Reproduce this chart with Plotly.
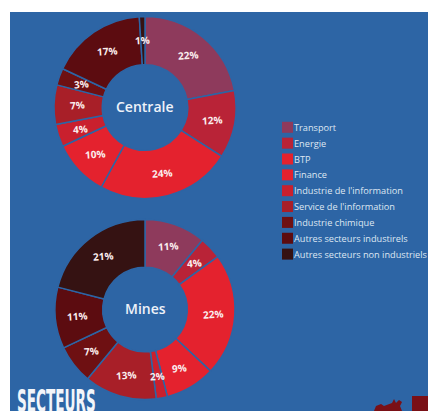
import math
import plotly.graph_objects as go

W, H = 428, 411
secteurs = ["Transport", "Energie", "BTP", "Finance", "Industrie de l'information",
            "Service de l'information", "Industrie chimique",
            "Autres secteurs industirels", "Autres secteurs non industriels"]
centrale = [22, 12, 24, 10, 4, 7, 3, 17, 1]
mines = [11, 4, 22, 9, 2, 13, 7, 11, 21]
couleurs = ["#8e3a5c", "#b92337", "#e4222e", "#e4222e", "#c9202e",
            "#a81f28", "#6e1012", "#5c0c10", "#351212"]
BLUE = "#2d65a5"
FONT = "Open Sans"

def X(px): return px / W
def Y(px): return 1 - px / H

fig = go.Figure()
annotations = []
shapes = [dict(type="rect", xref="paper", yref="paper", x0=X(10), x1=1, y0=0, y1=Y(12),
               fillcolor=BLUE, line_width=0, layer="below")]

def label(text, px, py, **kw):
    opts = dict(text=text, x=X(px), y=Y(py), xref="paper", yref="paper", showarrow=False,
                xanchor="center", yanchor="middle")
    opts.update(kw)
    annotations.append(opts)

def donut(name, values, cx, cy, r):
    fig.add_trace(go.Pie(
        labels=secteurs, values=values, name=name, sort=False, direction="clockwise",
        rotation=0, hole=0.47, textinfo="none", hoverinfo="label+percent", showlegend=False,
        marker=dict(colors=couleurs, line=dict(color=BLUE, width=1.5)),
        domain=dict(x=[X(cx - r), X(cx + r)], y=[Y(cy + r), Y(cy - r)])))
    label(name, cx, cy - 1, font=dict(family=FONT, size=14, color="#eef2f9", weight=600))
    total = sum(values)
    start = 0
    for v in values:
        a = math.radians((start + v / 2) / total * 360)
        start += v
        label(f"{v}%", cx + 68 * math.sin(a), cy - 68 * math.cos(a), textangle=-4,
              font=dict(family=FONT, size=10, color="#fbeeee", weight="bold"))

donut("Centrale", centrale, 145, 107.5, 91)
donut("Mines", mines, 145, 309.5, 90)

for i, (s, c) in enumerate(zip(secteurs, couleurs)):
    yc = 127.3 + i * 15.85
    shapes.append(dict(type="rect", xref="paper", yref="paper", x0=X(282), x1=X(293),
                       y0=Y(yc + 5.5), y1=Y(yc - 5.5), fillcolor=c, line_width=0))
    label(s, 292, yc, xanchor="left", font=dict(family=FONT, size=9.2, color="#dfe7f2"))

label("SECTEURS", 10, 406, xanchor="left",
      font=dict(family="DejaVu Sans Condensed", size=17, color="#f2f5fa", weight="bold"))

# red decorative corner
shapes.append(dict(type="rect", xref="paper", yref="paper", x0=X(412), x1=1, y0=0, y1=Y(396),
                   fillcolor="#7a1016", line_width=0))
pts = [(374, 411), (376, 406), (381, 404), (384, 406), (392, 403), (394, 399), (396, 403),
       (399, 400), (402, 402), (400, 406), (402, 411)]
path = "M " + " L ".join(f"{X(a):.4f} {Y(b):.4f}" for a, b in pts) + " Z"
shapes.append(dict(type="path", xref="paper", yref="paper", path=path,
                   fillcolor="#7a1016", line_width=0))

fig.update_layout(width=W, height=H, margin=dict(l=0, r=0, t=0, b=0), autosize=False,
                  paper_bgcolor="white", plot_bgcolor="white",
                  shapes=shapes, annotations=annotations)

post = """
document.body.style.margin='0';document.body.style.overflow='hidden';
document.querySelectorAll('.annotation-text').forEach(function(t){
  if(t.textContent==='SECTEURS'){
    var x=parseFloat(t.getAttribute('x'))||0, y=parseFloat(t.getAttribute('y'))||0;
    t.setAttribute('transform','translate('+x+','+y+') scale(0.89,1.9) translate('+(-x)+','+(-y)+')');
  }
});
"""
fig.write_html("out.html", config=dict(displayModeBar=False), post_script=post)
